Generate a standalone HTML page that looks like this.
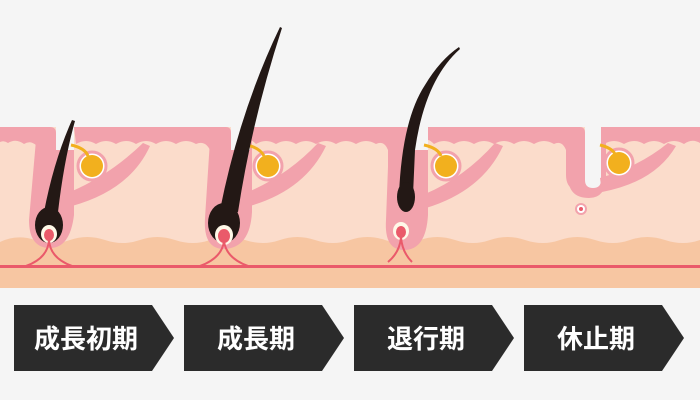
<!DOCTYPE html>
<html><head><meta charset="utf-8"><style>
html,body{margin:0;padding:0;background:#f5f5f5}
svg{display:block}
text{font-family:"Liberation Sans","Noto Sans CJK JP",sans-serif;font-weight:bold;font-size:26px;fill:#fff}
</style></head><body>
<svg width="700" height="400" viewBox="0 0 700 400" xmlns="http://www.w3.org/2000/svg">
<rect width="700" height="400" fill="#f5f5f5"/>
<rect x="0" y="127" width="700" height="161" fill="#fbdccb"/>
<path d="M0 242 Q17 234 35 240 T70 240 T105 240 T140 240 T175 240 T210 240 T245 240 T280 240 T315 240 T350 240 T385 240 T420 240 T455 240 T490 240 T525 240 T560 240 T595 240 T630 240 T665 240 T700 240 V288 H0Z" fill="#f7c6a2"/>
<rect x="0" y="265" width="700" height="3" fill="#ea5a6a"/>
<g fill="#f2a2ac">
<path d="M0 127 H50 Q56 127 56 133 V230 H36 V145 Q30 140 24 144 Q16 138 8 143 Q4 140 0 142Z"/>
<path d="M74 127 H226 Q231 127 231 133 V228 H210 V150 Q205 140 196 144 Q186 138 176 144 Q166 138 156 144 Q146 138 136 144 Q126 138 116 144 Q106 138 96 144 Q86 138 76 144Z"/>
<path d="M250 127 H405 Q410 127 410 133 V230 H388 V150 Q384 140 376 144 Q366 138 356 144 Q346 138 336 144 Q326 138 316 144 Q306 138 296 144 Q286 138 276 144 Q266 138 256 144 Q252 140 250 140Z"/>
<path d="M428 127 H580 Q585 127 585 133 V180 Q585 192 574 190 Q566 186 566 175 V150 Q562 140 554 144 Q544 138 534 144 Q524 138 514 144 Q504 138 494 144 Q484 138 474 144 Q464 138 454 144 Q444 138 434 144 Q430 140 428 140Z"/>
<path d="M601 127 H700 V143 Q692 138 684 144 Q674 138 664 144 Q654 138 644 144 Q634 138 624 144 Q614 138 604 144 Q601 140 601 140Z"/>
</g>
<g fill="#f2a2ac">
<path d="M36 140 H74 V215 Q70 248 50 248 Q29 248 29 220Z"/>
<path d="M210 140 H252 V212 Q250 248 224 249 Q203 249 205 218Z"/>
<path d="M389 140 H428 V215 Q426 250 404 250 Q384 250 386 220Z"/>
<path d="M570 140 H606 V176 Q606 198 589 198 Q568 198 568 176Z"/>
</g>
<rect x="56" y="120" width="18" height="30" fill="#f5f5f5"/>
<rect x="231" y="120" width="19" height="30" fill="#f5f5f5"/>
<rect x="410" y="120" width="18" height="30" fill="#f5f5f5"/>
<path d="M585 120 H601 V180 Q601 188 593 188 Q585 188 585 180Z" fill="#f5f5f5"/>
<g fill="#f2a2ac">
<path d="M70 192 Q110 175 143 143 L150 146 Q130 190 72 206Z"/>
<path d="M248 192 Q288 175 318 143 L326 146 Q305 190 250 206Z"/>
<path d="M425 194 Q465 177 495 143 L503 146 Q482 191 426 208Z"/>
<path d="M600 178 Q640 166 668 143 L676 146 Q655 182 602 192Z"/>
</g>
<g>
<g transform="translate(92,166)"><circle r="14" fill="#fff" stroke="#f2a2ac" stroke-width="3"/><circle r="11" fill="#f2b01e"/></g>
<g transform="translate(268,166)"><circle r="14" fill="#fff" stroke="#f2a2ac" stroke-width="3"/><circle r="11" fill="#f2b01e"/></g>
<g transform="translate(446,166)"><circle r="14" fill="#fff" stroke="#f2a2ac" stroke-width="3"/><circle r="11" fill="#f2b01e"/></g>
<g transform="translate(619,163)"><circle r="14" fill="#fff" stroke="#f2a2ac" stroke-width="3"/><circle r="11" fill="#f2b01e"/></g>
</g>
<g stroke="#f2b01e" stroke-width="3" fill="none">
<path d="M71 145 Q85 148 88 156"/><path d="M247 145 Q260 148 264 156"/><path d="M424 145 Q438 148 441 156"/><path d="M600 145 Q612 148 615 154"/>
</g>
<path d="M72 120 L75 121 Q64 160 58 212 L44 212 Q54 160 72 120Z" fill="#231815"/>
<ellipse cx="49" cy="225" rx="14" ry="18" fill="#231815"/>
<path d="M280 27 L282 28 Q252 120 238 212 L220 210 Q240 110 280 27Z" fill="#231815"/>
<ellipse cx="224" cy="223" rx="16" ry="20" fill="#231815"/>
<path d="M459 47 L460 49 Q425 80 415 150 L413 195 L399 195 Q402 120 425 85 Q440 60 459 47Z" fill="#231815"/>
<ellipse cx="406" cy="197" rx="9" ry="15" fill="#231815"/>
<g>
<ellipse cx="49" cy="234" rx="8" ry="9" fill="#fff8e8"/><ellipse cx="49" cy="235" rx="5" ry="6" fill="#ea5a6a"/>
<ellipse cx="224" cy="235" rx="9" ry="10" fill="#fff8e8"/><ellipse cx="224" cy="236" rx="6" ry="7" fill="#ea5a6a"/>
<ellipse cx="401" cy="231" rx="8" ry="9" fill="#fff8e8"/><ellipse cx="401" cy="232" rx="5" ry="6" fill="#ea5a6a"/>
<circle cx="581" cy="209" r="6" fill="#f2a2ac"/><circle cx="581" cy="209" r="4" fill="#fff"/><circle cx="581" cy="209" r="2" fill="#ea5a6a"/>
</g>
<g stroke="#ea5a6a" stroke-width="2" fill="none">
<path d="M49 240 Q48 258 26 266 M49 240 Q50 258 72 266"/>
<path d="M224 241 Q222 258 200 266 M224 241 Q226 258 248 266"/>
<path d="M401 237 Q400 252 388 262 M401 237 Q402 252 412 262"/>
</g>
<g fill="#2b2b2b">
<path d="M14 305 H152 L174 338 L152 371 H14Z"/>
<path d="M184 305 H322 L344 338 L322 371 H184Z"/>
<path d="M354 305 H492 L514 338 L492 371 H354Z"/>
<path d="M524 305 H662 L684 338 L662 371 H524Z"/>
</g>
<text x="86" y="348" text-anchor="middle">成長初期</text>
<text x="256" y="348" text-anchor="middle">成長期</text>
<text x="426" y="348" text-anchor="middle">退行期</text>
<text x="596" y="348" text-anchor="middle">休止期</text>
</svg>
</body></html>
